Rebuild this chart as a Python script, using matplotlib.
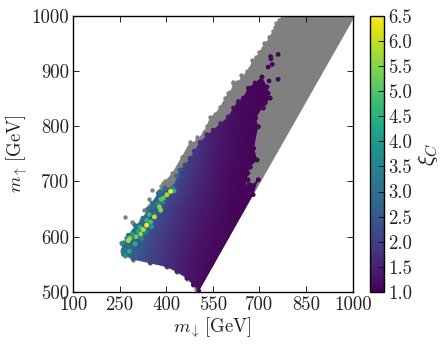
import matplotlib
matplotlib.use("Agg")
import matplotlib.pyplot as plt
from matplotlib.cm import ScalarMappable
from matplotlib.colors import Normalize
from matplotlib.patches import Polygon
import numpy as np

plt.rcParams['mathtext.fontset'] = 'cm'
plt.rcParams['font.family'] = ['cmr10', 'DejaVu Serif']
plt.rcParams['axes.unicode_minus'] = False
plt.rcParams['axes.formatter.use_mathtext'] = True

x_ticks = [100, 250, 400, 550, 700, 850, 1000]
y_ticks = [500, 600, 700, 800, 900, 1000]
c_ticks = [1.0, 1.5, 2.0, 2.5, 3.0, 3.5, 4.0, 4.5, 5.0, 5.5, 6.0, 6.5]

# Envelope of the scanned (grey) points, clockwise from the lower tip
grey_x = [503, 1000, 1000, 776, 762, 750, 745, 730, 722, 716, 700, 690, 676, 668, 660, 644, 628, 616, 606, 600, 589, 573,
          556, 541, 530, 520, 500, 490, 476, 450, 419, 395, 375, 345, 320, 295, 275, 262, 258, 268, 293,
          348, 402, 434, 466, 487, 497]
grey_y = [500, 992, 1000, 1000, 993, 980, 972, 962, 950, 950, 935, 925, 920, 905, 900, 889, 880, 878, 862, 860, 851, 835,
          822, 817, 800, 790, 775, 770, 771, 745, 715, 700, 680, 655, 630, 612, 600, 590, 575, 565, 558,
          552, 545, 536, 524, 512, 505]

# Stray grey points
grey_px = [353, 267, 294, 289, 391, 407, 299, 383, 345, 330, 770, 752, 642, 616, 476, 462, 500]
grey_py = [685, 636, 624, 627, 697, 700, 621, 692, 668, 648, 993, 986, 892, 880, 757, 738, 780]

# Outline of the coloured region, with the colour along it
blob_x = [505, 680, 696, 672, 663, 654, 663, 670, 692, 676, 682, 696, 688, 718, 712, 734, 724, 708, 686, 664,
          648, 632, 616, 599, 575, 551, 530, 509, 490, 476, 460, 444, 422, 400, 374, 354, 340, 325, 300, 278, 262, 262, 293, 348, 402,
          434, 466, 487]
blob_y = [502, 676, 703, 694, 703, 685, 715, 726, 739, 775, 760, 799, 815, 842, 833, 851, 871, 889, 878, 869,
          851, 845, 833, 817, 805, 793, 785, 771, 755, 742, 730, 721, 690, 686, 679, 661, 650, 634, 620, 603, 585, 568, 560, 553, 546,
          537, 525, 513]
blob_c = [1.1, 1.05, 1.05, 1.05, 1.05, 1.05, 1.05, 1.05, 1.05, 1.05, 1.05, 1.05, 1.05, 1.05, 1.05, 1.05, 1.05, 1.1, 1.1, 1.1,
          1.15, 1.2, 1.25, 1.3, 1.4, 1.45, 1.55, 1.7, 1.8, 1.9, 2.1, 2.4, 2.6, 2.7, 2.9, 3.0, 3.0, 2.9, 3.0, 3.0, 2.9, 2.7, 2.5, 2.0, 1.65,
          1.45, 1.3, 1.15]

# Colour across the region, read on a coarse grid
grid_x = [250, 300, 350, 400, 450, 500, 550, 600, 650, 700, 750, 800]
grid_y = [500, 550, 600, 650, 700, 750, 800, 850, 900, 950]
xi_500 = [2.5, 2.2, 1.9, 1.6, 1.35, 1.2, 1.08, 1.05, 1.05, 1.05, 1.05, 1.05]
xi_550 = [2.8, 2.5, 2.05, 1.75, 1.45, 1.25, 1.1, 1.05, 1.05, 1.05, 1.05, 1.05]
xi_600 = [3.2, 2.8, 2.25, 1.85, 1.55, 1.33, 1.18, 1.08, 1.05, 1.05, 1.05, 1.05]
xi_650 = [3.5, 3.2, 2.7, 2.1, 1.72, 1.45, 1.27, 1.12, 1.05, 1.05, 1.05, 1.05]
xi_700 = [3.6, 3.4, 3.1, 2.7, 2.05, 1.62, 1.35, 1.17, 1.07, 1.05, 1.05, 1.05]
xi_750 = [3.6, 3.4, 3.3, 3.0, 2.3, 1.78, 1.42, 1.22, 1.1, 1.05, 1.05, 1.05]
xi_800 = [3.6, 3.4, 3.3, 3.0, 2.4, 1.85, 1.48, 1.25, 1.12, 1.06, 1.05, 1.05]
xi_850 = [3.6, 3.4, 3.3, 3.0, 2.4, 1.9, 1.5, 1.27, 1.13, 1.07, 1.05, 1.05]
xi_900 = [3.6, 3.4, 3.3, 3.0, 2.4, 1.9, 1.5, 1.27, 1.13, 1.07, 1.05, 1.05]
xi_950 = [3.6, 3.4, 3.3, 3.0, 2.4, 1.9, 1.5, 1.27, 1.13, 1.07, 1.05, 1.05]
xi_grid = [xi_500, xi_550, xi_600, xi_650, xi_700, xi_750, xi_800, xi_850, xi_900, xi_950]

# Individually visible coloured points
pts_x = [425, 391, 383, 378, 382, 362, 350, 337, 326, 318, 303, 283, 278, 273, 257,
         262, 267, 281, 300, 316, 353, 334, 418, 396, 364, 359, 434, 380, 321, 402, 414, 337, 345, 310, 290, 372, 388,
         736, 737, 760, 728, 741, 760, 731, 708, 700, 686, 724, 728, 734, 718, 712, 696, 692, 676,
         696, 670, 663, 654]
pts_y = [683, 670, 668, 654, 648, 636, 627, 630, 613, 605, 600, 597, 593, 597, 588,
         577, 567, 574, 587, 617, 618, 609, 688, 688, 642, 654, 710, 682, 597, 676, 682, 621, 640, 610, 605, 660, 662,
         926, 922, 930, 907, 912, 885, 882, 889, 880, 878, 871, 860, 851, 842, 833, 799, 739, 775,
         703, 726, 703, 690]
pts_c = [4.5, 5.0, 5.0, 5.5, 5.5, 6.0, 4.8, 4.5, 5.8, 5.5, 5.3, 5.5, 5.8, 3.8, 3.8,
         3.2, 3.8, 4.5, 4.5, 4.5, 4.0, 3.5, 3.5, 3.0, 3.0, 3.0, 3.0, 3.0, 3.5, 5.8, 6.4, 6.5, 4.6, 4.2, 4.0, 3.6, 3.4,
         1.1, 1.1, 1.1, 1.1, 1.1, 1.1, 1.1, 1.1, 1.1, 1.1, 1.1, 1.1, 1.1, 1.1, 1.1, 1.1, 1.1, 1.1,
         1.1, 1.1, 1.1, 1.1]
order = np.argsort(pts_c)

GREY = '#808080'
TEXT = '#222222'
norm = Normalize(1.0, 6.5)
cmap = plt.get_cmap('viridis')

fig = plt.figure(figsize=(4.41, 3.47), dpi=100)
ax = fig.add_axes([73 / 441, 1 - 292 / 347, 279.7 / 441, 276.3 / 347])

ax.add_patch(Polygon(np.column_stack([grey_x, grey_y]), closed=True, fc=GREY, ec='none', zorder=1))
ax.scatter(grey_x[3:], grey_y[3:], s=10, c=GREY, linewidths=0, zorder=1)
ax.scatter(grey_px, grey_py, s=10, c=GREY, linewidths=0, zorder=1)

clip = Polygon(np.column_stack([blob_x, blob_y]), closed=True, transform=ax.transData, fc='none', ec='none')
ax.add_patch(clip)
mesh = ax.pcolormesh(grid_x, grid_y, np.array(xi_grid), shading='gouraud', cmap=cmap, norm=norm, zorder=2)
mesh.set_clip_path(clip)

ax.scatter(blob_x, blob_y, s=11, c=blob_c, cmap=cmap, norm=norm, linewidths=0, zorder=2.5)
ax.scatter(np.array(pts_x)[order], np.array(pts_y)[order], s=12, c=np.array(pts_c)[order],
           cmap=cmap, norm=norm, linewidths=0, zorder=3)

ax.set_xlim(100, 1000)
ax.set_ylim(500, 1000)
ax.set_xticks(x_ticks)
ax.set_yticks(y_ticks)
ax.set_xticklabels([str(v) for v in x_ticks])
ax.set_yticklabels([str(v) for v in y_ticks])
ax.tick_params(direction='in', top=True, right=True, length=4, width=0.6, labelsize=13.5, pad=3,
               labelcolor=TEXT)
for s in ax.spines.values():
    s.set_linewidth(1.0)
ax.set_xlabel(r'$m_{\downarrow}\,[\mathrm{GeV}]$', fontsize=13.5, labelpad=1, color=TEXT)
ax.set_ylabel(r'$m_{\uparrow}\,[\mathrm{GeV}]$', fontsize=13.5, labelpad=1, color=TEXT)

cax = fig.add_axes([370 / 441, 1 - 292 / 347, 14 / 441, 276.3 / 347])
cb = fig.colorbar(ScalarMappable(norm=norm, cmap=cmap), cax=cax)
cb.set_ticks(c_ticks)
cb.set_ticklabels([f'{v:.1f}' for v in c_ticks])
cb.ax.tick_params(direction='in', length=4, width=0.6, labelsize=13.5, pad=3, labelcolor=TEXT)
cb.outline.set_linewidth(1.0)
cb.set_label(r'$\xi_C$', fontsize=16, labelpad=3, color=TEXT)

fig.savefig('out.png', dpi=100)
